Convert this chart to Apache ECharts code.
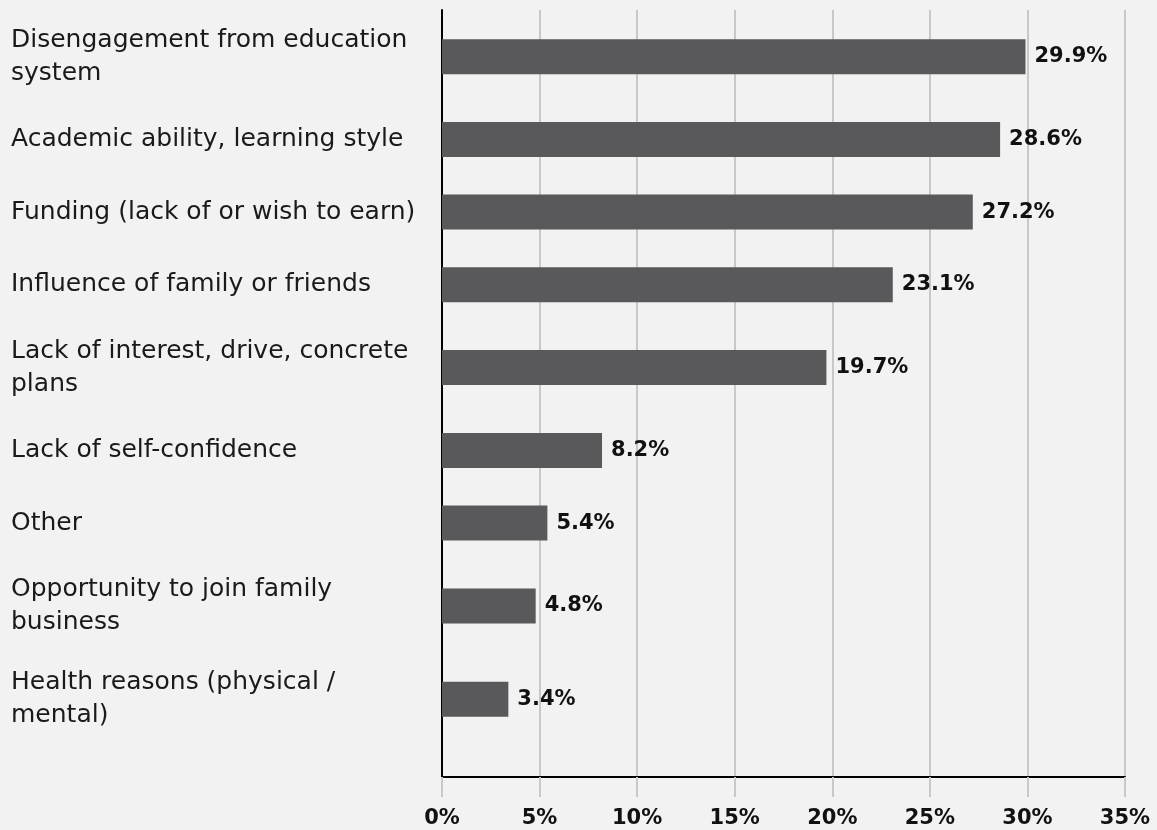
<!DOCTYPE html>
<html>
<head>
<meta charset="utf-8">
<script src="https://cdn.jsdelivr.net/npm/echarts@6/dist/echarts.min.js"></script>
<style>
html,body{margin:0;padding:0;background:#f2f2f2;}
#chart{width:1157px;height:830px;}
</style>
</head>
<body>
<div id="chart"></div>
<script>
const categories = [
  "Disengagement from education\nsystem",
  "Academic ability, learning style",
  "Funding (lack of or wish to earn)",
  "Influence of family or friends",
  "Lack of interest, drive, concrete\nplans",
  "Lack of self-confidence",
  "Other",
  "Opportunity to join family\nbusiness",
  "Health reasons (physical /\nmental)"
];
const values = [29.9, 28.6, 27.2, 23.1, 19.7, 8.2, 5.4, 4.8, 3.4];
const xMin = 0, xMax = 35, xStep = 5;

// Rows take more room when their label wraps onto two lines.
const slotKeys = [], slotLabels = {}, slotValues = [];
categories.forEach((c, i) => {
  const lines = c.split('\n').length;
  const n = 5 + 2 * lines;
  const mid = Math.floor(n / 2);
  for (let j = 0; j < n; j++) {
    const key = 'r' + i + '_' + j;
    slotKeys.push(key);
    slotLabels[key] = j === mid ? c : '';
    slotValues.push(j === mid ? values[i] : '-');
  }
});
for (let k = 0; k < 3; k++) { const key = 'pad' + k; slotKeys.push(key); slotLabels[key] = ''; slotValues.push('-'); }

const chart = echarts.init(document.getElementById('chart'));
const FONT = 'DejaVu Sans';
chart.setOption({
  backgroundColor: '#f2f2f2',
  animation: false,
  grid: { left: 442, right: 32, top: 10, bottom: 53, containLabel: false },
  xAxis: {
    type: 'value', min: xMin, max: xMax, interval: xStep,
    axisLine: { show: true, lineStyle: { color: '#000', width: 2 } },
    axisTick: { show: true, length: 20, lineStyle: { color: '#c8c8c8', width: 2 } },
    splitLine: { show: true, lineStyle: { color: '#c8c8c8', width: 2 } },
    axisLabel: { formatter: '{value}%', margin: 31, fontFamily: FONT, fontWeight: 'bold', fontSize: 21, color: '#111' }
  },
  yAxis: {
    type: 'category', inverse: true, data: slotKeys,
    axisLine: { show: true, lineStyle: { color: '#000', width: 2 } },
    axisTick: { show: false },
    axisLabel: {
      interval: 0, align: 'left', margin: 431,
      formatter: v => slotLabels[v],
      fontFamily: FONT, fontSize: 25, lineHeight: 33, color: '#1a1a1a'
    }
  },
  series: [{
    type: 'bar', data: slotValues, barWidth: 35,
    itemStyle: { color: '#59595b' },
    label: { show: true, position: 'right', distance: 9, formatter: p => p.value + '%',
      fontFamily: FONT, fontWeight: 'bold', fontSize: 21, color: '#111' }
  }]
});
</script>
</body>
</html>
